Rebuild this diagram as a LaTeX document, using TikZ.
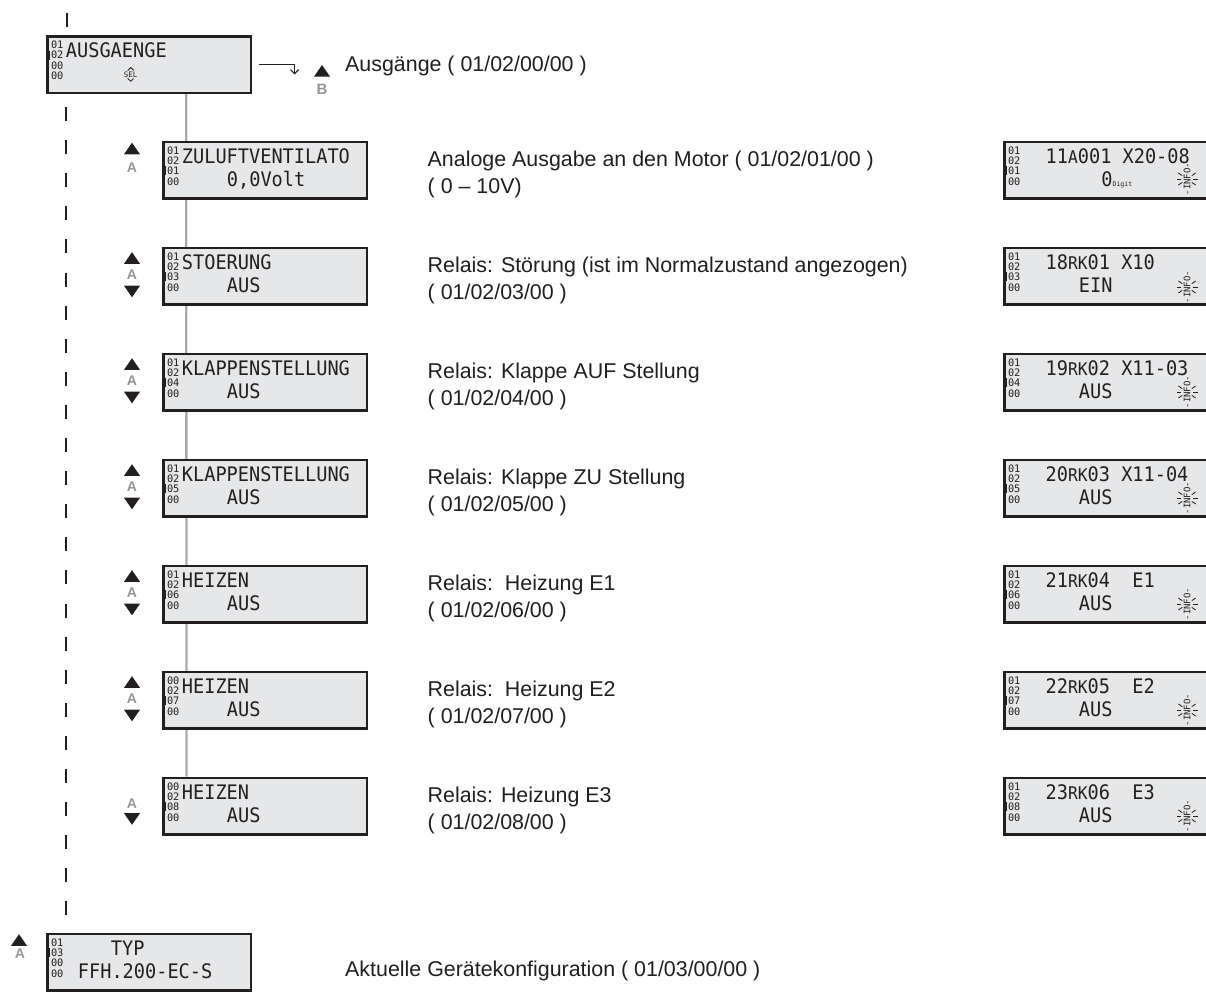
\documentclass[tikz,border=0pt]{standalone}
\usepackage{fontspec}
\setmainfont{Liberation Sans}
\newfontfamily\lcdf[FakeStretch=0.93]{DejaVu Sans Mono}
\newfontfamily\lcdn{DejaVu Sans Mono}
\usetikzlibrary{calc,arrows.meta}
\pgfdeclarelayer{bg}
\pgfsetlayers{bg,main}
\definecolor{lcdfill}{HTML}{E6E7E8}
\definecolor{lcdborder}{HTML}{231F20}
\definecolor{conngray}{HTML}{A7A9AC}
\definecolor{labgray}{HTML}{939598}
\newcommand\lcdbig{\lcdf\fontsize{20}{20}\selectfont}
\newcommand\lcdsc{\fontsize{17.5}{17.5}\selectfont}
\newcommand\lcdtiny{\lcdn\fontsize{10.3}{10.3}\selectfont}
\tikzset{
 lcd/.style={draw=lcdborder, fill=lcdfill, line width=2.5pt, minimum width=203.5pt, minimum height=56.5pt, inner sep=0pt},
 big/.style={font=\lcdbig, inner sep=0pt, anchor=base west, text=lcdborder},
 num/.style={font=\lcdtiny, inner sep=0pt, anchor=base west, text=lcdborder},
 mk/.style={line width=1.6pt, draw=lcdborder},
 desc/.style={font=\fontsize{21.4}{21.4}\selectfont, inner sep=0pt, anchor=base west, text=lcdborder},
 conn/.style={draw=conngray, line width=2.3pt},
 dashl/.style={draw=lcdborder, line width=2.3pt, dash pattern=on 14pt off 19.1pt, dash phase=20.1pt},
 lab/.style={font=\bfseries\fontsize{14}{14}\selectfont, text=labgray, inner sep=0pt, anchor=base},
 tri/.style={fill=lcdborder},
 ray/.style={draw=lcdborder, line width=0.8pt},
}
% #1 name, #2 centre, #3 numbers, #4 marker line, #5 x line1, #6 line1, #7 x line2, #8 line2
\newcommand\lcdbox[8]{%
 \node[lcd] (#1) at (#2) {};
 \foreach \v [count=\i] in {#3}
   \node[num] (#1n\i) at ($(#1.north west)+(4.8,{3.3+10.3*\i})$) {\v};
 \draw[mk] ($(#1.north west)+(3.2,{3.3+10.3*#4-8.3})$) -- ++(0,9);
 \node[big] (#1a) at ($(#1.north west)+({#5-1.25},22.75)$) {#6};
 \node[big] (#1b) at ($(#1.north west)+({#7-1.25},45.75)$) {#8};
}
\newcommand\infosym[2]{%
 \node[font=\lcdn\fontsize{9}{9}\selectfont, rotate=90, inner sep=0pt, text=lcdborder] (#1) at (#2) {-INFO-};
 \foreach \a in {145,180,215,35,0,-35}
   \draw[ray] ($(#1.center)+(\a:5.8)$) -- ($(#1.center)+(\a:10.5)$);
}
\newcommand\uptri[1]{\fill[tri] ($(#1)+(-8,5.8)$) -- ($(#1)+(8,5.8)$) -- ($(#1)+(0,-5.8)$) -- cycle;}
\newcommand\dntri[1]{\fill[tri] ($(#1)+(-8,-5.8)$) -- ($(#1)+(8,-5.8)$) -- ($(#1)+(0,5.8)$) -- cycle;}
\newcommand\smcap[1]{{\lcdsc #1}}
\begin{document}
\begin{tikzpicture}[x=1pt,y=-1pt]
\useasboundingbox (0,0) rectangle (1206,991);
\begin{pgfonlayer}{bg}
\fill[white] (0,0) rectangle (1206,991);
\end{pgfonlayer}
% left column
\lcdbox{top}{149,64.5}{01,02,00,00}{2}{21}{AUSGAENGE}{0}{}
\lcdbox{bot}{149,962}{01,03,00,00}{2}{66}{TYP}{33}{FFH.200-EC-S}
% SEL symbol
\node[font=\lcdn\fontsize{7.5}{7.5}\selectfont, inner sep=0pt, text=lcdborder] (sel) at (130.7,74.3) {SEL};
\draw[ray] ($(sel.center)+(-3,-3.8)$) -- ($(sel.center)+(0,-6.8)$) -- ($(sel.center)+(3,-3.8)$);
\draw[ray] ($(sel.center)+(-3,4.2)$) -- ($(sel.center)+(0,6.9)$) -- ($(sel.center)+(3,4.2)$);
% middle column
\lcdbox{b1}{265,170}{01,02,01,00}{3}{21}{ZULUFTVENTILATO}{66}{0,0Volt}
\lcdbox{b2}{265,276}{01,02,03,00}{3}{21}{STOERUNG}{66}{AUS}
\lcdbox{b3}{265,382}{01,02,04,00}{3}{21}{KLAPPENSTELLUNG}{66}{AUS}
\lcdbox{b4}{265,488}{01,02,05,00}{3}{21}{KLAPPENSTELLUNG}{66}{AUS}
\lcdbox{b5}{265,594}{01,02,06,00}{3}{21}{HEIZEN}{66}{AUS}
\lcdbox{b6}{265,700}{00,02,07,00}{3}{21}{HEIZEN}{66}{AUS}
\lcdbox{b7}{265,806}{00,02,08,00}{3}{21}{HEIZEN}{66}{AUS}
% right column
\lcdbox{r1}{1106,170}{01,02,01,00}{3}{43.7}{11\smcap{A}001 X20-08}{99.5}{0{\lcdn\fontsize{6.5}{6.5}\selectfont Digit}}
\lcdbox{r2}{1106,276}{01,02,03,00}{3}{43.7}{18\smcap{RK}01 X10}{77}{EIN}
\lcdbox{r3}{1106,382}{01,02,04,00}{3}{43.7}{19\smcap{RK}02 X11-03}{77}{AUS}
\lcdbox{r4}{1106,488}{01,02,05,00}{3}{43.7}{20\smcap{RK}03 X11-04}{77}{AUS}
\lcdbox{r5}{1106,594}{01,02,06,00}{3}{43.7}{21\smcap{RK}04\ \ E1}{77}{AUS}
\lcdbox{r6}{1106,700}{01,02,07,00}{3}{43.7}{22\smcap{RK}05\ \ E2}{77}{AUS}
\lcdbox{r7}{1106,806}{01,02,08,00}{3}{43.7}{23\smcap{RK}06\ \ E3}{77}{AUS}
\infosym{i1}{1187,179}
\infosym{i2}{1187,287}
\infosym{i3}{1187,392}
\infosym{i4}{1187,498}
\infosym{i5}{1187,604}
\infosym{i6}{1187,710}
\infosym{i7}{1187,816}
% connectors
\begin{pgfonlayer}{bg}
\coordinate (dtop) at (67.25,12.7);
\draw[line width=2.3pt, lcdborder] (dtop) -- ++(0,14);
\draw[dashl] ($(top.south west)+(20,0)$) -- ($(bot.north west)+(20,0)$);
\draw[conn] ($(top.south west)+(140.25,0)$) -- ($(b7.north west)+(24.5,0)$);
\end{pgfonlayer}
\draw[line width=1.2pt, lcdborder, -{Straight Barb[length=4pt,width=8pt]}] ($(top.east)+(6.5,0)$) -- ++(36,0) -- ++(0,10);
% markers
\uptri{322,70.8}
\node[lab, font=\bfseries\fontsize{15}{15}\selectfont] (labB) at (322,94) {B};
\uptri{132,148.5}
\node[lab] (lab1) at (132,172.3) {A};
\foreach \c [count=\k from 2] in {276,382,488,594,700}{
  \uptri{132,\c-18}
  \node[lab] (lab\k) at (132,\c+3.5) {A};
  \dntri{132,\c+15.5}
}
\node[lab] (lab7) at (132,808) {A};
\dntri{132,819}
\uptri{19,940}
\node[lab] (lab8) at (20,958.5) {A};
% descriptions
\node[desc] (top t) at (345,71) {Ausgänge ( 01/02/00/00 )};
\node[desc] (d1a) at (427.5,166.7) {Analoge Ausgabe an den Motor ( 01/02/01/00 )};
\node[desc] (d1b) at (427.5,193.3) {( 0 – 10V)};
\node[desc] (d2a) at (427.5,272.7) {Relais: Störung (ist im Normalzustand angezogen)};
\node[desc] (d2b) at (427.5,299.3) {( 01/02/03/00 )};
\node[desc] (d3a) at (427.5,378.7) {Relais: Klappe AUF Stellung};
\node[desc] (d3b) at (427.5,405.3) {( 01/02/04/00 )};
\node[desc] (d4a) at (427.5,484.7) {Relais: Klappe ZU Stellung};
\node[desc] (d4b) at (427.5,511.3) {( 01/02/05/00 )};
\node[desc] (d5a) at (427.5,590.7) {Relais:\ \ Heizung E1};
\node[desc] (d5b) at (427.5,617.3) {( 01/02/06/00 )};
\node[desc] (d6a) at (427.5,696.7) {Relais:\ \ Heizung E2};
\node[desc] (d6b) at (427.5,723.3) {( 01/02/07/00 )};
\node[desc] (d7a) at (427.5,802.7) {Relais: Heizung E3};
\node[desc] (d7b) at (427.5,829.3) {( 01/02/08/00 )};
\node[desc] (bot t) at (345,976) {Aktuelle Gerätekonfiguration ( 01/03/00/00 )};
\end{tikzpicture}
\end{document}
